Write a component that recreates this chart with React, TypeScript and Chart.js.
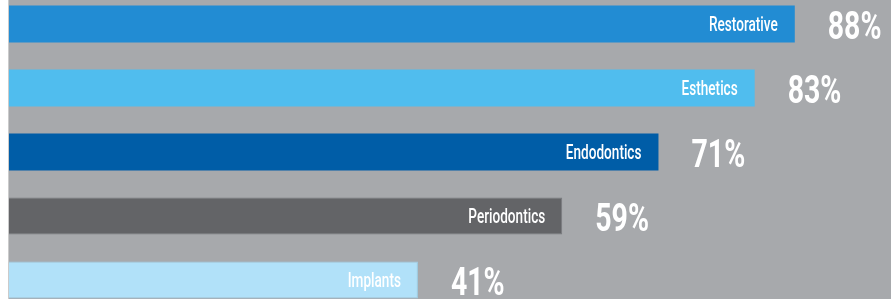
import React, { useEffect, useRef } from "react";
import { Chart, registerables } from "chart.js";

Chart.register(...registerables);

const categories = ["Restorative", "Esthetics", "Endodontics", "Periodontics", "Implants"];
const values = [88, 83, 71, 59, 41];
const valueLabels = ["88%", "83%", "71%", "59%", "41%"];
const barColors = ["#228CD3", "#50BDEE", "#005DA7", "#636467", "#B1E1F9"];
const borderColors = ["#228CD3", "#50BDEE", "#005DA7", "#7A7B7E", "#9ECFE8"];
const borderWidths = [0, 0, 0, 1, 1];

const labelPlugin = {
  id: "barLabels",
  afterDatasetsDraw(chart: any) {
    const ctx = chart.ctx as CanvasRenderingContext2D;
    const meta = chart.getDatasetMeta(0);
    meta.data.forEach((bar: any, i: number) => {
      const x = bar.x;
      const y = bar.y;
      ctx.save();
      ctx.fillStyle = "#FFFFFF";
      ctx.font = "500 20px Roboto";
      ctx.textAlign = "right";
      ctx.textBaseline = "alphabetic";
      ctx.translate(x - 17, y + 7);
      ctx.scale(0.68, 1);
      ctx.fillText(categories[i], 0, 0);
      ctx.restore();

      ctx.save();
      ctx.fillStyle = "#FFFFFF";
      ctx.font = "bold 39px Roboto";
      ctx.textAlign = "left";
      ctx.textBaseline = "alphabetic";
      ctx.translate(x + 33, y + 14.5);
      ctx.scale(0.73, 1);
      ctx.fillText(valueLabels[i], 0, 0);
      ctx.restore();
    });
  },
};

export default function App() {
  const ref = useRef<HTMLCanvasElement | null>(null);
  useEffect(() => {
    if (!ref.current) return;
    const chart = new Chart(ref.current, {
      type: "bar",
      data: {
        labels: categories,
        datasets: [
          {
            data: values,
            backgroundColor: barColors,
            borderColor: borderColors,
            borderWidth: borderWidths,
            base: -10,
            barPercentage: 1,
            categoryPercentage: 0.58,
          } as any,
        ],
      },
      options: {
        indexAxis: "y",
        animation: false,
        responsive: false,
        devicePixelRatio: 1,
        layout: { padding: 0 },
        plugins: {
          legend: { display: false },
          tooltip: { enabled: false },
          title: { display: false },
        },
        scales: {
          x: { display: false, min: -10, max: 100 },
          y: { display: false },
        },
      },
      plugins: [labelPlugin],
    });
    return () => chart.destroy();
  }, []);
  return (
    <div
      style={{
        position: "absolute",
        left: 8,
        top: -8,
        width: 883,
        height: 320,
        background: "#A7A9AC",
        borderLeft: "1px solid #CBCBCB",
        boxSizing: "border-box",
      }}
    >
      <canvas ref={ref} width={882} height={320} style={{ display: "block" }} />
    </div>
  );
}
